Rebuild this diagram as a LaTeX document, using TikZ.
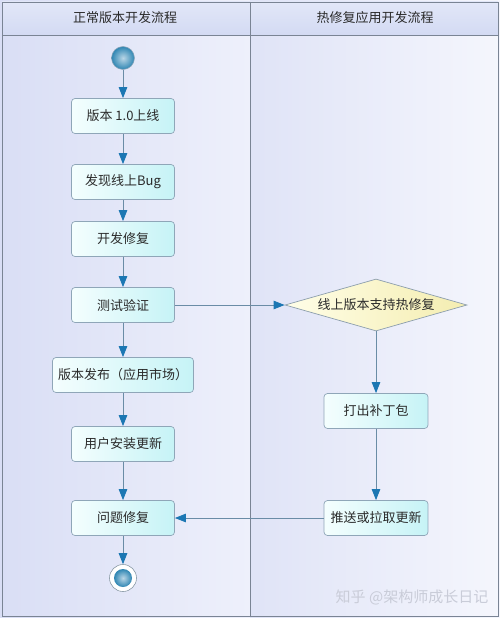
\documentclass[tikz,border=0pt]{standalone}
\usepackage{fontspec}
\setmainfont{Noto Sans CJK SC}
\usetikzlibrary{arrows.meta,shapes.geometric}
\definecolor{lanel}{HTML}{D9DEF5}
\definecolor{laner}{HTML}{EEF0FB}
\definecolor{headt}{HTML}{E2E7F8}
\definecolor{headb}{HTML}{D3DAF3}
\definecolor{framec}{HTML}{7A8494}
\definecolor{boxborder}{HTML}{8FA6B8}
\definecolor{boxl}{HTML}{F4FEFE}
\definecolor{boxr}{HTML}{C6F3F6}
\definecolor{linec}{HTML}{6A8CA6}
\definecolor{tipc}{HTML}{1C77B3}
\definecolor{diaml}{HTML}{FFFEE8}
\definecolor{diamr}{HTML}{F4EDB0}
\definecolor{ballin}{HTML}{B9D6E6}
\definecolor{ballout}{HTML}{2F86B3}
\definecolor{txt}{HTML}{2A2A2A}
\definecolor{wm}{HTML}{C9CCD8}
\tikzset{
  stepbox/.style={draw=boxborder, line width=0.7pt, rounded corners=3.5pt,
    left color=boxl, right color=boxr, minimum width=103pt, minimum height=35pt,
    inner sep=2pt, text=txt},
  decbox/.style={diamond, aspect=3.5, draw=boxborder!80!gray, line width=0.7pt,
    left color=diaml, right color=diamr, minimum width=182pt, minimum height=52pt,
    inner sep=0pt, text=txt},
  flow/.style={draw=linec, line width=0.9pt,
    -{Triangle[length=11pt,width=8.5pt,color=tipc,fill=tipc]}},
  ball/.style={circle, shading=radial, inner color=ballin, outer color=ballout,
    inner sep=0pt},
  lanehead/.style={text=txt}
}
\begin{document}
\begin{tikzpicture}[x=1pt,y=-1pt,font=\fontsize{13}{15}\selectfont]
\useasboundingbox (0,0) rectangle (500,618);
% backgrounds
\shade[left color=lanel, right color=laner] (0,0) rectangle (250,618);
\shade[left color=lanel!70!laner, right color=laner!60!white] (250,0) rectangle (500,618);
\shade[top color=headt, bottom color=headb] (2,2) rectangle (498,35);
% frame
\draw[framec, line width=0.8pt] (2,2) rectangle (498,616);
\draw[framec, line width=0.8pt] (2,35) -- (498,35);
\draw[framec, line width=0.8pt] (250,2) -- (250,616);
% headers
\node[lanehead] (h1) at (125,18) {正常版本开发流程};
\node[lanehead] (h2) at (375,18) {热修复应用开发流程};
% start
\node[ball, draw=boxborder, line width=0.5pt, minimum size=23pt] (start) at (123,58) {};
% left lane
\node[stepbox] (b1) at (123,116) {版本\ 1.0上线};
\node[stepbox] (b2) at (123,182) {发现线上Bug};
\node[stepbox] (b3) at (123,239) {开发修复};
\node[stepbox] (b4) at (123,305) {测试验证};
\node[stepbox, minimum width=141pt] (b5) at (123,375) {版本发布（应用市场）};
\node[stepbox] (b6) at (123,444) {用户安装更新};
\node[stepbox] (b7) at (123,518) {问题修复};
% end
\node[circle, draw=boxborder!70!gray, line width=0.6pt, fill=white, minimum size=27pt, inner sep=0pt] (end) at (123,578) {};
\node[ball, minimum size=18pt] (endin) at (end.center) {};
% right lane
\node[decbox] (d1) at (376,305) {线上版本支持热修复};
\node[stepbox, minimum width=104pt] (r1) at (376,411) {打出补丁包};
\node[stepbox, minimum width=104pt] (r2) at (376,518) {推送或拉取更新};
% connectors
\draw[flow] (start) -- (b1);
\draw[flow] (b1) -- (b2);
\draw[flow] (b2) -- (b3);
\draw[flow] (b3) -- (b4);
\draw[flow] (b4) -- (b5);
\draw[flow] (b5) -- (b6);
\draw[flow] (b6) -- (b7);
\draw[flow] (b7) -- (end);
\draw[flow] (b4.east) -- (d1.west);
\draw[flow] (d1) -- (r1);
\draw[flow] (r1) -- (r2);
\draw[flow] (r2.west) -- (b7.east);
% watermark
\node[text=wm, font=\fontsize{15}{17}\selectfont] (wmk) at (412,597) {知乎 @架构师成长日记};
\end{tikzpicture}
\end{document}
